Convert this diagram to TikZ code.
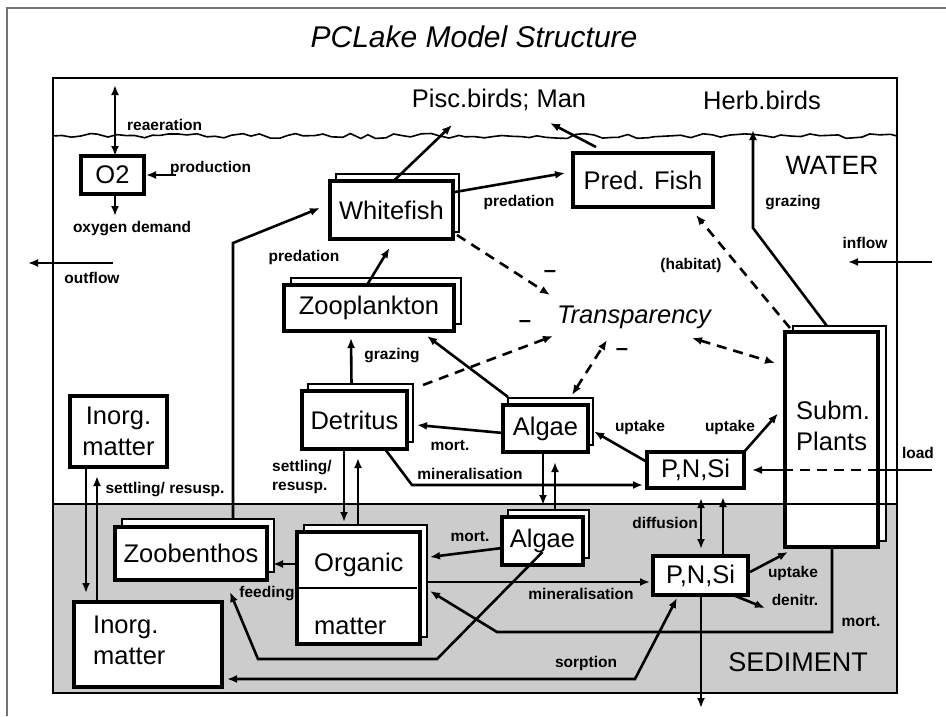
\documentclass[tikz,border=0pt]{standalone}
\usepackage{fontspec}
\setmainfont{Liberation Sans}
\setsansfont{Liberation Sans}
\usetikzlibrary{arrows.meta,calc,decorations.pathmorphing}
\newcommand\biglab{\fontsize{25.5}{31}\selectfont}
\newcommand\smalllab{\fontsize{15.5}{19}\selectfont\bfseries}
\tikzset{
 backline/.style={line width=2.6pt, draw=black, fill=white},
 boxnode/.style={draw=black, line width=3.2pt, fill=white, inner sep=0pt, outer sep=0pt, font=\biglab, align=center},
 lab/.style={font=\smalllab, inner sep=0pt},
 minus/.style={font=\fontsize{22}{24}\selectfont\bfseries, inner sep=0pt},
 txt/.style={font=\biglab, inner sep=0pt},
 arr/.style={line width=2.6pt, -{Latex[length=10pt,width=8pt]}},
 darr/.style={line width=2.6pt, {Latex[length=10pt,width=8pt]}-{Latex[length=10pt,width=8pt]}},
 plainline/.style={line width=2.6pt},
 dsh/.style={dash pattern=on 10pt off 7pt},
}
% name, x1, y1, x2, y2, dx, dy(up), text
\newcommand\myshbox[8]{%
 \draw[backline] ({#2+#6},{#3-#7}) rectangle ({#4+#6},{#5-#7});
 \node[boxnode, minimum width={(#4-#2)*1pt}, minimum height={(#5-#3)*1pt}] (#1) at ({(#2+#4)/2},{(#3+#5)/2}) {#8};
}
\newcommand\myplainbox[6]{%
 \node[boxnode, minimum width={(#4-#2)*1pt}, minimum height={(#5-#3)*1pt}] (#1) at ({(#2+#4)/2},{(#3+#5)/2}) {#6};
}
\begin{document}
\begin{tikzpicture}[x=1pt,y=-1pt]
\useasboundingbox (0,0) rectangle (946,716);
\fill[white] (0,0) rectangle (946,716);
% frames
\draw[black!55, line width=1.8pt] (7,716) -- (7,8) -- (946,8);
\fill[black!20] (53,504) rectangle (897,693);
\draw[line width=1.4pt] (53,78) rectangle (897,693);
\draw[line width=2.8pt] (53,504) -- (785,504);
\pgfmathsetseed{7}
\draw[line width=1.6pt, decorate, decoration={random steps, segment length=9pt, amplitude=2.5pt}] (53,136) -- (897,136);

% texts
\node[font=\fontsize{30}{36}\selectfont\itshape, inner sep=0pt] (title) at (474,37) {PCLake Model Structure};
\node[txt] (pisc) at (499,100) {Pisc.birds; Man};
\node[txt] (herb) at (762,100) {Herb.birds};
\node[font=\fontsize{26.5}{32}\selectfont, inner sep=0pt] (water) at (832,165) {WATER};
\node[font=\biglab\itshape, inner sep=0pt] (transp) at (634,317) {Transparency};
\node[font=\fontsize{27}{32}\selectfont, inner sep=0pt] (sed) at (798,662) {SEDIMENT};

% boxes
\myplainbox{o2}{81}{156}{144}{194}{O2}
\myplainbox{pf}{573}{153}{713}{207}{Pred. Fish}
\myshbox{wf}{330}{181}{453}{239}{6}{7}{Whitefish}
\myshbox{zp}{284}{285}{454}{331}{7}{7}{Zooplankton}
\myshbox{det}{302}{391}{407}{449}{6}{7}{Detritus}
\myplainbox{inw}{70}{396}{167}{467}{Inorg.\\matter}
\myshbox{alw}{503}{405}{588}{452}{5}{7}{Algae}
\myshbox{sp}{785}{332}{878}{547}{8}{6}{}
\myplainbox{pnw}{647}{452}{744}{488}{P,N,Si}
\myshbox{als}{502}{517}{583}{565}{6}{7}{Algae}
\myshbox{om}{297}{532}{420}{644}{7}{7}{}
\myshbox{zb}{115}{527}{267}{580}{7}{8}{Zoobenthos}
\myplainbox{pns}{653}{556}{748}{595}{P,N,Si}
\myplainbox{ins}{74}{602}{222}{687}{}
\draw[line width=1.2pt] (785,504) -- (897,504);
\draw[line width=2.6pt] (om.west) -- ($(om.east)+(-3,0)$);
\node[txt, align=left, anchor=west] (sptxt) at (796,426) {Subm.\\Plants};
\node[txt, anchor=west] (omt1) at (314,565) {Organic};
\node[txt, anchor=west] (omt2) at (314,626) {matter};
\node[txt, align=left, anchor=west] (inst) at (93,640) {Inorg.\\matter};

% coordinates
\coordinate (reatop) at (115,85);
\coordinate (prodS) at (176,175);
\coordinate (oxd) at (115,216);
\coordinate (outS) at (113,263);
\coordinate (outE) at (28,263);
\coordinate (zbBend) at (233,243);
\coordinate (herbBend) at (753,228);
\coordinate (minBend) at (412,485);
\coordinate (loadR) at (932,470);
\coordinate (inS) at (932,262);
\coordinate (inE) at (848,262);
\coordinate (fdA) at (437,659);
\coordinate (fdB) at (258,659);
\coordinate (denE) at (765,608);
\coordinate (burE) at (701,708);
\coordinate (mA) at (832,632);
\coordinate (mB) at (497,632);
\coordinate (sorB) at (635,679);

% connectors
\draw[darr] (reatop) -- (reatop |- o2.north);
\draw[arr, shorten >=2pt] (prodS) -- (o2.east |- prodS);
\draw[arr] (reatop |- o2.south) -- (oxd);
\draw[arr] (outS) -- (outE);
\draw[arr] ($(pf.north west)+(23,-6)$) -- ($(pisc)+(51,23)$);
\draw[arr] ($(wf.north)+(2,0)$) -- ($(pisc)+(-47,25)$);
\draw[arr] ($(wf.east)+(2,-18)$) -- ($(pf.west)+(-8,-7)$);
\draw[arr] ($(zp.north)+(-2,0)$) -- ($(wf.south)+(-2,9)$);
\draw[arr] ($(zb.north)+(42,-8)$) -- (zbBend) -- ($(wf.west)+(-10,-2)$);
\draw[arr] ($(det.north)+(-3,-7)$) -- ($(zp.south)+(-18,7)$);
\draw[arr] ($(alw.north west)+(5,-8)$) -- ($(zp.south east)+(-27,5)$);
\draw[arr,dsh] ($(det.north east)+(16,-6)$) -- ($(transp)+(-81,19)$);
\draw[arr,dsh] ($(wf.south east)+(4,-4)$) -- ($(transp)+(-84,-22)$);
\draw[darr,dsh] ($(alw.north east)+(-16,-10)$) -- ($(transp)+(-27,23)$);
\draw[darr,dsh] ($(transp)+(58,21)$) -- ($(sp.west)+(-10,-76.5)$);
\draw[arr,dsh] ($(sp.north west)+(5,-4)$) -- ($(pf.south)+(53,8)$);
\draw[arr] ($(sp.north west)+(42,-6)$) -- (herbBend) -- ($(herb)+(-9,30)$);
\draw[arr] ($(alw.west)+(0,4.5)$) -- ($(det.east)+(10,5)$);
\draw[arr] ($(det.south)+(30.5,0)$) -- (minBend) -- ($(pnw.west)+(-4,15)$);
\draw[arr] ($(pnw.north west)+(0,10)$) -- ($(alw.east)+(6,3)$);
\draw[arr] (pnw.north east) -- ($(sp.west)+(-7,-26)$);
\draw[plainline] (loadR) -- (sp.east |- loadR);
\draw[plainline,dsh] (sp.east |- loadR) -- (sp.west |- loadR);
\draw[arr] (sp.west |- loadR) -- ($(pnw.east)+(8,0)$);
\draw[arr] (inS) -- (inE);
\draw[arr] ($(det.south)+(-10.5,0)$) -- ($(om.north)+(-14.5,-10)$);
\draw[arr] ($(om.north)+(-0.5,-7)$) -- ($(det.south)+(3.5,9)$);
\draw[arr] ($(alw.south)+(-2.5,0)$) -- ($(als.north)+(0.5,-12)$);
\draw[arr] ($(als.north)+(12.5,-7)$) -- ($(alw.south)+(9.5,10)$);
\draw[arr] ($(om.west)+(0,-24)$) -- ($(zb.east)+(6,10.5)$);
\draw[arr] ($(als.south)+(0,-13)$) -- (fdA) -- (fdB) -- ($(zb.south)+(39,12)$);
\draw[arr] ($(als.west)+(0,7)$) -- ($(om.east)+(10,-31)$);
\draw[arr] ($(om.east)+(7,-6)$) -- ($(pns.west)+(-3,6.5)$);
\draw[darr] ($(pnw.south)+(5.5,10)$) -- ($(pns.north)+(0.5,-7)$);
\draw[arr] ($(pns.north)+(22.5,0)$) -- ($(pnw.south)+(27.5,9)$);
\draw[arr] ($(pns.east)+(2,-3.5)$) -- ($(sp.south west)+(3,5)$);
\draw[arr] ($(pns.south east)+(-15,0)$) -- (denE);
\draw[arr] ($(pns.south)+(0.5,0)$) -- (burE);
\draw[arr] ($(sp.south)+(0.5,0)$) -- (mA) -- (mB) -- ($(om.east)+(10,3)$);
\draw[darr] ($(ins.east)+(5,34.5)$) -- (sorB) -- ($(pns.south west)+(24,3)$);
\draw[arr] ($(inw.south)+(-32.5,0)$) -- ($(ins.north)+(-62,-9)$);
\draw[arr] ($(ins.north)+(-51,0)$) -- ($(inw.south)+(-21.5,9)$);

% labels
\node[lab, anchor=west] (l1) at (127,125) {reaeration};
\node[lab, anchor=west] (l2) at (170,168) {production};
\node[lab] (l3) at (132,229) {oxygen demand};
\node[lab] (l4) at (92,278) {outflow};
\node[lab] (l5) at (519,202) {predation};
\node[lab] (l6) at (304,257) {predation};
\node[lab] (l7) at (793,203) {grazing};
\node[lab] (l8) at (865,243) {inflow};
\node[lab] (l9) at (691,265) {(habitat)};
\node[lab] (l10) at (392,356) {grazing};
\node[lab] (l11) at (450,446) {mort.};
\node[lab] (l12) at (470,474) {mineralisation};
\node[lab] (l13) at (640,427) {uptake};
\node[lab] (l14) at (730,427) {uptake};
\node[lab] (l15) at (918,453) {load};
\node[lab, anchor=west, align=left] (l16) at (272,477) {settling/\\resusp.};
\node[lab] (l17) at (165,490) {settling/ resusp.};
\node[lab] (l18) at (470,537) {mort.};
\node[lab] (l19) at (665,523) {diffusion};
\node[lab] (l20) at (267,594) {feeding};
\node[lab] (l21) at (581,594) {mineralisation};
\node[lab] (l22) at (793,573) {uptake};
\node[lab] (l23) at (795,600) {denitr.};
\node[lab] (l24) at (861,622) {mort.};
\node[lab] (l25) at (586,663) {sorption};
\node[minus] (m1) at (550,274) {\textendash};
\node[minus] (m2) at (525,324) {\textendash};
\node[minus] (m3) at (622,352) {\textendash};
\end{tikzpicture}
\end{document}
